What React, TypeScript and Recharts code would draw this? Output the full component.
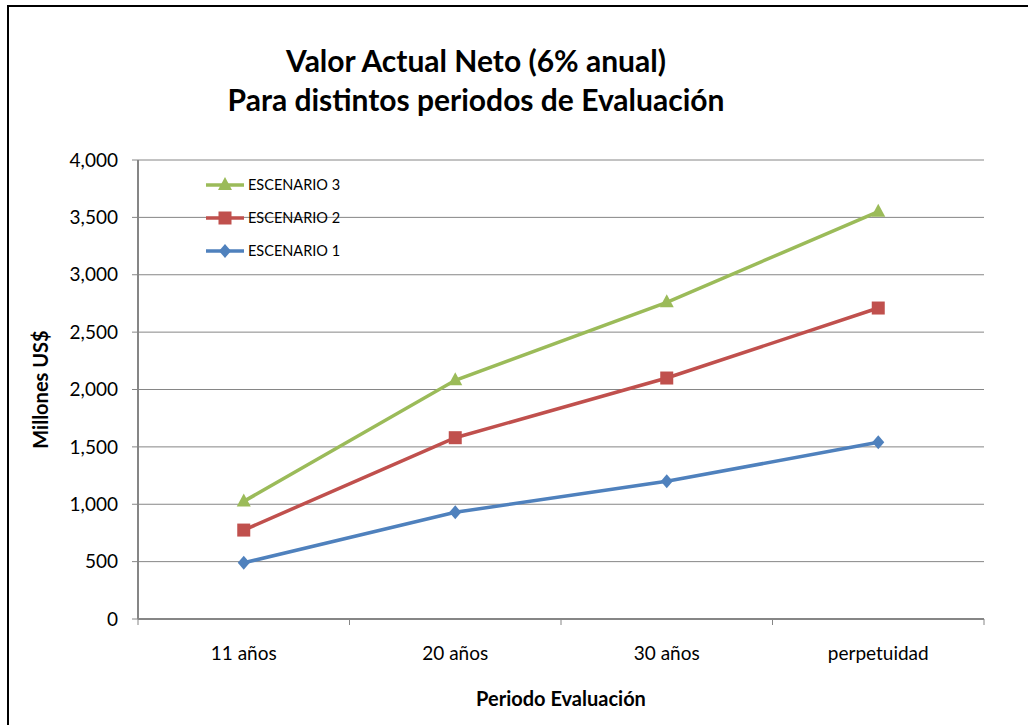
import React from 'react';
import { LineChart, Line, XAxis, YAxis, CartesianGrid } from 'recharts';

const periods = ['11 años', '20 años', '30 años', 'perpetuidad'];
const escenario1 = [490, 930, 1200, 1540];
const escenario2 = [775, 1580, 2100, 2710];
const escenario3 = [1025, 2080, 2760, 3550];
const yTicks = [0, 500, 1000, 1500, 2000, 2500, 3000, 3500, 4000];

const data = periods.map((p, i) => ({
  period: p,
  esc1: escenario1[i],
  esc2: escenario2[i],
  esc3: escenario3[i],
}));

const FONT = 'Lato, "Open Sans", sans-serif';
const AXIS_GRAY = '#868686';
const TICK_GAP = 28;

const series = [
  { key: 'esc3', name: 'ESCENARIO 3', color: '#9BBB59', shape: 'triangle' },
  { key: 'esc2', name: 'ESCENARIO 2', color: '#C0504D', shape: 'square' },
  { key: 'esc1', name: 'ESCENARIO 1', color: '#4F81BD', shape: 'diamond' },
];

function Marker({ cx, cy, shape, color }: { cx: number; cy: number; shape: string; color: string }) {
  if (cx == null || cy == null) return null;
  if (shape === 'square') {
    return <rect x={cx - 6.5} y={cy - 6.5} width={13} height={13} fill={color} />;
  }
  if (shape === 'triangle') {
    return <polygon points={`${cx},${cy - 8} ${cx + 7},${cy + 5} ${cx - 7},${cy + 5}`} fill={color} />;
  }
  return <polygon points={`${cx},${cy - 7} ${cx + 6},${cy} ${cx},${cy + 7} ${cx - 6},${cy}`} fill={color} />;
}

// category label in the middle of its band, tick marks on the band edges
function BandTick({ x, y, payload, index }: any) {
  const half = payload.offset || 0;
  const axisY = y - TICK_GAP;
  return (
    <g>
      <line x1={x - half} y1={axisY} x2={x - half} y2={axisY + 6} stroke={AXIS_GRAY} />
      {index === periods.length - 1 && (
        <line x1={x + half} y1={axisY} x2={x + half} y2={axisY + 6} stroke={AXIS_GRAY} />
      )}
      <text x={x} y={y} dy="0.71em" textAnchor="middle" fontFamily={FONT} fontSize={19} fill="#000">
        {payload.value}
      </text>
    </g>
  );
}

function LegendBox() {
  return (
    <div style={{ position: 'absolute', left: 205, top: 168, fontFamily: FONT, fontSize: 14.5, color: '#000' }}>
      {series.map((s) => (
        <div key={s.key} style={{ display: 'flex', alignItems: 'center', height: 33 }}>
          <svg width={40} height={16}>
            <line x1={1} y1={8} x2={39} y2={8} stroke={s.color} strokeWidth={3.5} />
            <Marker cx={20} cy={8} shape={s.shape} color={s.color} />
          </svg>
          <span style={{ marginLeft: 3 }}>{s.name}</span>
        </div>
      ))}
    </div>
  );
}

export default function App() {
  return (
    <div style={{ position: 'absolute', left: 0, top: 0, width: 1028, height: 725, overflow: 'hidden', background: '#fff' }}>
      <div
        style={{
          position: 'absolute',
          left: 7,
          top: 5,
          width: 1100,
          height: 800,
          border: '2px solid #000',
          boxSizing: 'border-box',
        }}
      />
      <div
        style={{
          position: 'absolute',
          left: 0,
          top: 41,
          width: 952,
          textAlign: 'center',
          fontFamily: FONT,
          fontWeight: 700,
          fontSize: 30,
          lineHeight: '39px',
          color: '#000',
        }}
      >
        Valor Actual Neto (6% anual)
        <br />
        Para distintos periodos de Evaluación
      </div>
      <div style={{ position: 'absolute', left: 0, top: 0 }}>
        <LineChart width={1028} height={725} data={data} margin={{ top: 160, right: 44, bottom: 0, left: 0 }}>
          <CartesianGrid vertical={false} stroke={AXIS_GRAY} strokeWidth={1} />
          <XAxis
            dataKey="period"
            scale="band"
            height={106}
            axisLine={{ stroke: AXIS_GRAY, strokeWidth: 2 }}
            tickLine={false}
            tickSize={0}
            tickMargin={TICK_GAP}
            tick={<BandTick />}
            label={{
              content: ({ viewBox }: any) => (
                <text
                  x={viewBox.x + viewBox.width / 2}
                  y={viewBox.y + 87}
                  textAnchor="middle"
                  fontFamily={FONT}
                  fontWeight={700}
                  fontSize={20}
                  fill="#000"
                >
                  Periodo Evaluación
                </text>
              ),
            }}
          />
          <YAxis
            domain={[0, 4000]}
            ticks={yTicks}
            width={138}
            tickSize={6}
            tickMargin={14}
            tickFormatter={(v: number) => v.toLocaleString('en-US')}
            tick={{ fill: '#000', fontFamily: FONT, fontSize: 19 }}
            axisLine={{ stroke: AXIS_GRAY, strokeWidth: 2 }}
            tickLine={{ stroke: AXIS_GRAY }}
            label={{
              content: ({ viewBox }: any) => (
                <text
                  x={40}
                  y={viewBox.y + viewBox.height / 2}
                  transform={`rotate(-90, 40, ${viewBox.y + viewBox.height / 2})`}
                  textAnchor="middle"
                  dominantBaseline="central"
                  fontFamily={FONT}
                  fontWeight={700}
                  fontSize={20}
                  fill="#000"
                >
                  Millones US$
                </text>
              ),
            }}
          />
          {series
            .slice()
            .reverse()
            .map((s) => (
              <Line
                key={s.key}
                dataKey={s.key}
                name={s.name}
                stroke={s.color}
                strokeWidth={3.5}
                isAnimationActive={false}
                dot={(p: any) => <Marker key={`${s.key}-${p.index}`} cx={p.cx} cy={p.cy} shape={s.shape} color={s.color} />}
                activeDot={false}
              />
            ))}
        </LineChart>
      </div>
      <LegendBox />
    </div>
  );
}
